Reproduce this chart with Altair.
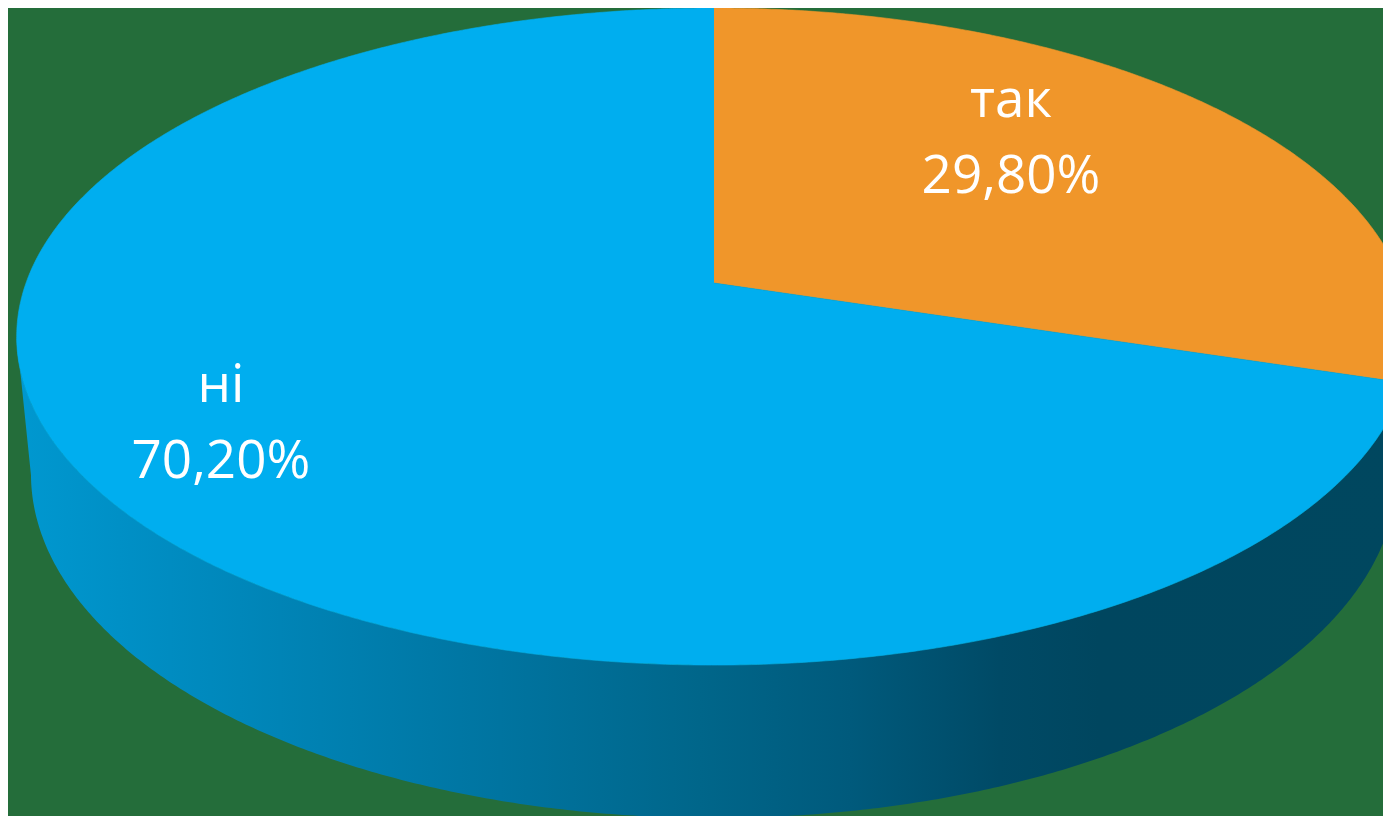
import numpy as np
import pandas as pd
import altair as alt

# ---- data ----
categories = ["так", "ні"]
shares = [29.8, 70.2]
slice_colors = ["#F0962A", "#00AEEF"]
side_colors = ["#A8641A", "#00475F"]

# ---- layout (reference-pixel geometry of the tilted pie) ----
W, H = 1375, 808          # plot area (page adds 8px margin)
OFF = 8
CX, CY = 714.0, 283.0     # projected pie centre
SX, SY = 688.0, 319.8     # projected radii
K = 0.163                 # perspective factor along depth
M = 0.0204                # perspective factor for the lower rim
SZ = 138.9                # thickness of the pie
LABEL_FACTORS = [(0.536, 0.875), (0.890, 0.627)]
SIDE_SHADE = [(17, "#0098D0"), (170, "#008CC1"), (500, "#0074A0"),
              (700, "#00668A"), (850, "#005A7C"), (1000, "#004A66"),
              (1100, "#00465F"), (1410, "#00475F")]


def proj(theta_deg, r=1.0, z=0.0):
    t = np.radians(theta_deg)
    u = r * np.sin(t)
    v = r * np.cos(t)
    w = 1 + K * v + M * z
    return CX + SX * u / w, CY - (SY * v - SZ * z) / w


def arc(a0, a1, z=0.0):
    n = max(2, int(abs(a1 - a0) / 0.4) + 1)
    ang = np.linspace(a0, a1, n)
    return proj(ang, 1.0, z)


total = sum(shares)
bounds = []
acc = 0.0
for s in shares:
    a0 = acc / total * 360
    acc += s
    bounds.append((a0, acc / total * 360))

front_lo = np.degrees(np.arccos(-K))
front_hi = 360 - front_lo

rows = []
for i, (a0, a1) in enumerate(bounds):
    # top face
    ax, ay = proj(0, 0.0)
    xs, ys = arc(a0, a1)
    pts = [(ax, ay)] + list(zip(xs, ys))
    for j, (x, y) in enumerate(pts):
        rows.append({"shape": f"top{i}", "i": j, "x": x, "y": y})
    # visible outer side
    lo, hi = max(a0, front_lo), min(a1, front_hi)
    if lo < hi:
        tx, ty = arc(lo, hi, 0.0)
        bx, by = arc(hi, lo, 1.0)
        pts = list(zip(tx, ty)) + list(zip(bx, by))
        for j, (x, y) in enumerate(pts):
            rows.append({"shape": f"side{i}", "i": j, "x": x, "y": y})

geo = pd.DataFrame(rows)

# labels
lab_rows = []
for i, (a0, a1) in enumerate(bounds):
    mid = np.radians((a0 + a1) / 2)
    fx, fy = LABEL_FACTORS[i]
    pct = f"{shares[i]:.2f}".replace(".", ",") + "%"
    lab_rows.append({
        "x": CX + SX * fx * np.sin(mid),
        "y": CY - SY * fy * np.cos(mid),
        "text": f"{categories[i]}\n{pct}",
    })
labels = pd.DataFrame(lab_rows)

xs = alt.Scale(domain=[OFF, OFF + W], nice=False, zero=False)
ys = alt.Scale(domain=[OFF, OFF + H], nice=False, zero=False, reverse=True)

base = alt.Chart(geo).encode(
    x=alt.X("x:Q", scale=xs, axis=None),
    y=alt.Y("y:Q", scale=ys, axis=None),
    order=alt.Order("i:Q"),
)

layers = []
for i in range(len(shares)):
    name = f"side{i}"
    sub = geo[geo["shape"] == name]
    if sub.empty:
        continue
    if i == 1:
        x0, x1 = sub["x"].min(), sub["x"].max()
        stops = [alt.GradientStop(color=c, offset=float(min(1, max(0, (px - x0) / (x1 - x0)))))
                 for px, c in SIDE_SHADE]
        fill = alt.Gradient(gradient="linear", stops=stops, x1=0, x2=1, y1=0, y2=0)
        layers.append(base.transform_filter(alt.datum.shape == name)
                      .mark_line(fill=fill, strokeWidth=0, clip=True, interpolate="linear"))
    else:
        layers.append(base.transform_filter(alt.datum.shape == name)
                      .mark_line(fill=side_colors[i], stroke=side_colors[i], strokeWidth=0.5,
                                 clip=True))

for i in range(len(shares)):
    name = f"top{i}"
    layers.append(base.transform_filter(alt.datum.shape == name)
                  .mark_line(fill=slice_colors[i], stroke=slice_colors[i], strokeWidth=0.6,
                             clip=True))

text = alt.Chart(labels).mark_text(
    font="Open Sans", fontSize=53, color="white", align="center",
    baseline="alphabetic", lineBreak="\n", lineHeight=76,
).encode(
    x=alt.X("x:Q", scale=xs, axis=None),
    y=alt.Y("y:Q", scale=ys, axis=None),
    text="text:N",
)
layers.append(text)

chart = alt.layer(*layers).properties(
    width=W, height=H, padding=0, background="#246D3A"
).configure_view(strokeWidth=0)

chart.save("out.html", embed_options={"renderer": "svg", "actions": False})
